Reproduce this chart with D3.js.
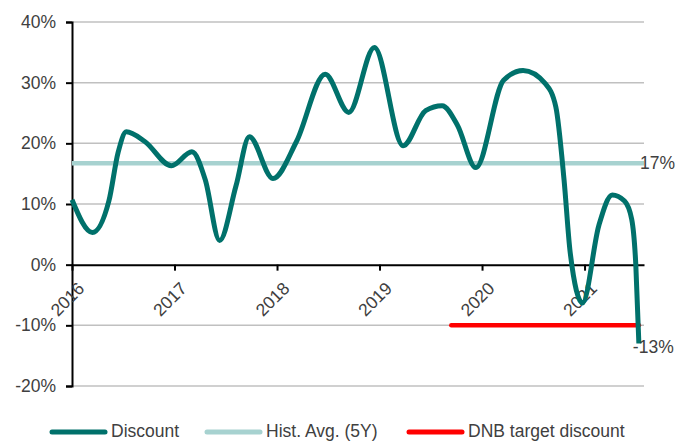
<!DOCTYPE html>
<html>
<head>
<meta charset="utf-8">
<script src="https://cdn.jsdelivr.net/npm/d3@7"></script>
<style>
  body { margin: 0; background: #fff; }
  svg { display: block; font-family: "Liberation Sans", Arial, sans-serif; }
</style>
</head>
<body>
<svg id="chart" width="675" height="441"></svg>
<script>
// discount series (decimal year, %)
const discountYears = [2016.00, 2016.20, 2016.36, 2016.45, 2016.53, 2016.71, 2016.97, 2017.17, 2017.30, 2017.44,
    2017.60, 2017.73, 2017.96, 2018.19, 2018.47, 2018.70, 2018.95, 2019.23, 2019.45, 2019.61,
    2019.76, 2019.94, 2020.21, 2020.40, 2020.62, 2020.72, 2020.80, 2020.86, 2020.98, 2021.14,
    2021.27, 2021.39, 2021.46, 2021.50, 2021.53];
const discountValues = [10.7, 5.3, 10.5, 18.5, 21.9, 20.3, 16.3, 18.6, 14.0, 4.0,
    13.0, 21.1, 14.2, 20.3, 31.4, 25.1, 35.8, 19.6, 25.4, 26.2,
    23.0, 16.0, 30.4, 32.0, 29.8, 26.0, 14.0, 2.0, -6.3, 6.5,
    11.5, 10.5, 7.5, 0.0, -13.0];
const histAvg = 16.7;
const histAvgLabel = "17%";
const dnbTarget = -10;
const dnbStart = 2019.70;
const lastLabel = "-13%";
const yearTicks = [2016, 2017, 2018, 2019, 2020, 2021];
const pctTicks = [-20, -10, 0, 10, 20, 30, 40];
const legendNames = ["Discount", "Hist. Avg. (5Y)", "DNB target discount"];

const colors = {discount: "#00716b", hist: "#a7d2d0", dnb: "#ff0000", grid: "#c0c0c0", text: "#404040"};
const margin = {top: 22, right: 31, bottom: 55, left: 72};
const width = 675, height = 441;
const fontSize = 17.5;

const svg = d3.select("#chart");

const x = d3.scaleLinear()
    .domain([2016, 2021.58])
    .range([margin.left, width - margin.right]);
const y = d3.scaleLinear()
    .domain([-20, 40])
    .range([height - margin.bottom, margin.top]);

// gridlines
svg.append("g")
    .selectAll("line")
    .data(pctTicks.filter(d => d !== 0))
    .join("line")
    .attr("x1", x(2016))
    .attr("x2", x(2021.58))
    .attr("y1", d => y(d))
    .attr("y2", d => y(d))
    .attr("stroke", colors.grid)
    .attr("stroke-width", 1.5);

// y axis
svg.append("g")
    .attr("transform", `translate(${margin.left},0)`)
    .call(d3.axisLeft(y).tickValues(pctTicks).tickSize(6).tickFormat(d => d + "%"))
    .call(g => g.select(".domain").attr("stroke", "#000").attr("stroke-width", 2))
    .call(g => g.selectAll(".tick line").attr("stroke", "#000").attr("stroke-width", 2))
    .call(g => g.selectAll(".tick text")
        .attr("x", -16)
        .attr("fill", colors.text)
        .attr("font-size", fontSize)
        .attr("font-family", "Liberation Sans, Arial, sans-serif"));

// x axis at zero
svg.append("g")
    .attr("transform", `translate(0,${y(0)})`)
    .call(d3.axisBottom(x).tickValues(yearTicks).tickSize(6).tickSizeOuter(0).tickFormat(d3.format("d")))
    .call(g => g.select(".domain").attr("stroke", "#000").attr("stroke-width", 2))
    .call(g => g.selectAll(".tick line").attr("stroke", "#000").attr("stroke-width", 2))
    .call(g => g.selectAll(".tick text")
        .attr("x", null).attr("y", null).attr("dy", null)
        .attr("text-anchor", "end")
        .attr("transform", "translate(13,25) rotate(-45)")
        .attr("fill", colors.text)
        .attr("font-size", fontSize)
        .attr("font-family", "Liberation Sans, Arial, sans-serif"));

// historical average
svg.append("line")
    .attr("x1", x(2016))
    .attr("x2", x(2021.58))
    .attr("y1", y(histAvg))
    .attr("y2", y(histAvg))
    .attr("stroke", colors.hist)
    .attr("stroke-width", 4.5);

// DNB target
svg.append("line")
    .attr("x1", x(dnbStart))
    .attr("x2", x(discountYears[discountYears.length - 1]))
    .attr("y1", y(dnbTarget))
    .attr("y2", y(dnbTarget))
    .attr("stroke", colors.dnb)
    .attr("stroke-width", 4.5)
    .attr("stroke-linecap", "round");

// discount line
const discount = discountYears.map((d, i) => ({year: d, value: discountValues[i]}));
const line = d3.line()
    .x(d => x(d.year))
    .y(d => y(d.value))
    .curve(d3.curveMonotoneX);

svg.append("path")
    .datum(discount)
    .attr("d", line)
    .attr("fill", "none")
    .attr("stroke", colors.discount)
    .attr("stroke-width", 5)
    .attr("stroke-linejoin", "round");

// end labels
svg.append("text")
    .attr("x", x(2021.58) - 4)
    .attr("y", y(histAvg) + 6)
    .attr("fill", colors.text)
    .attr("font-size", fontSize)
    .text(histAvgLabel);

const last = discount[discount.length - 1];
svg.append("text")
    .attr("x", x(last.year) - 6)
    .attr("y", y(last.value) + 9)
    .attr("fill", colors.text)
    .attr("font-size", fontSize)
    .text(lastLabel);

// legend
const legendX = [50, 205, 407];
const legendColors = [colors.discount, colors.hist, colors.dnb];
const legend = svg.append("g")
    .selectAll("g")
    .data(legendNames)
    .join("g")
    .attr("transform", (d, i) => `translate(${legendX[i]},432)`);
legend.append("line")
    .attr("x1", 2).attr("x2", 55)
    .attr("stroke", (d, i) => legendColors[i])
    .attr("stroke-width", 5)
    .attr("stroke-linecap", "round");
legend.append("text")
    .attr("x", 61)
    .attr("y", 5)
    .attr("fill", colors.text)
    .attr("font-size", fontSize)
    .text(d => d);
</script>
</body>
</html>
